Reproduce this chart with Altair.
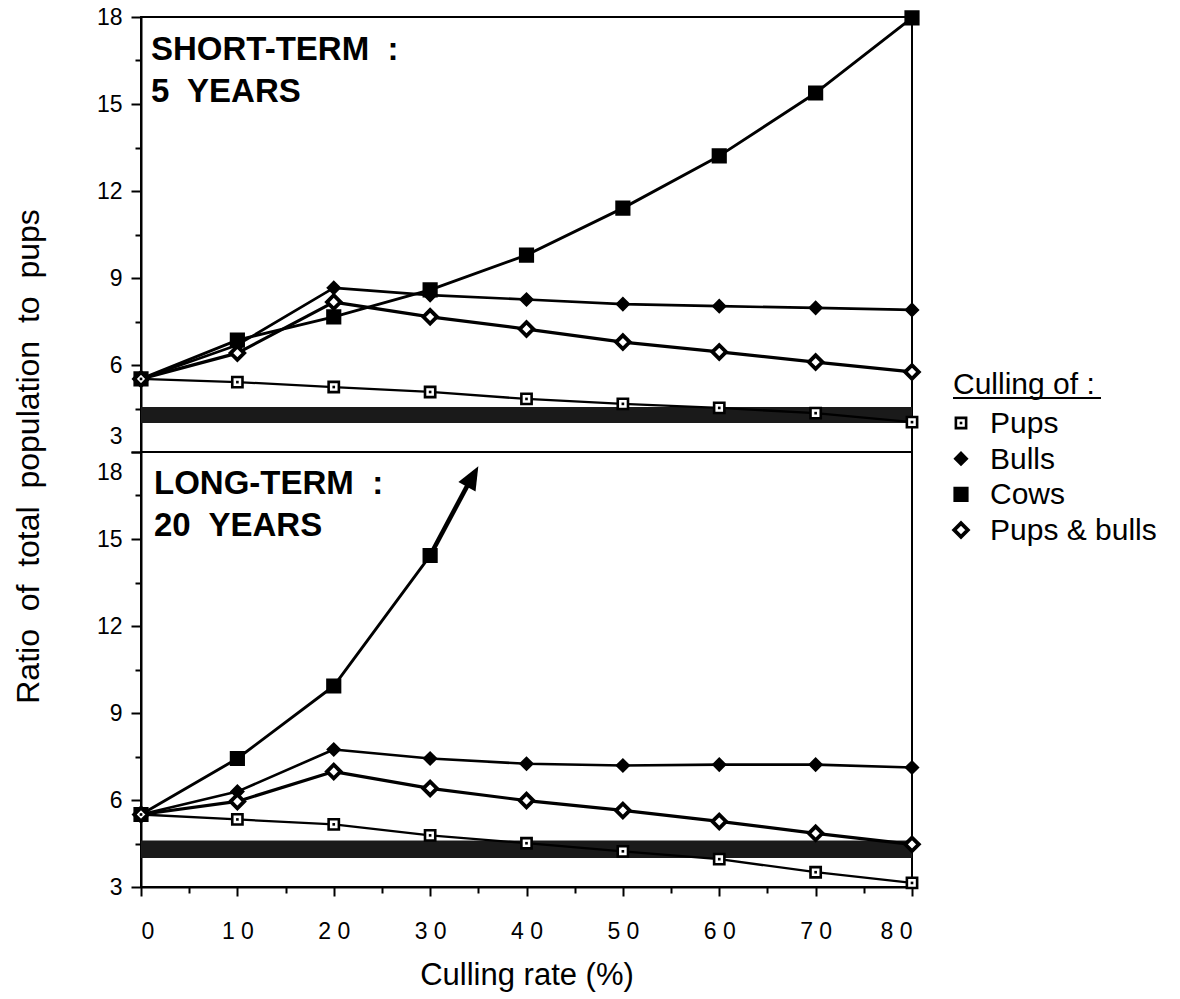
import altair as alt
import pandas as pd

# ---------------- data ----------------
rates = [0, 10, 20, 30, 40, 50, 60, 70, 80]
series_order = ["Pups", "Bulls", "Cows", "Pups & bulls"]

# Short-term : 5 years
short_pups = [5.52, 5.41, 5.24, 5.07, 4.83, 4.66, 4.52, 4.34, 4.03]
short_bulls = [5.52, 6.69, 8.66, 8.41, 8.26, 8.10, 8.03, 7.97, 7.90]
short_cows = [5.52, 6.86, 7.66, 8.59, 9.79, 11.41, 13.21, 15.38, 17.97]
short_pups_bulls = [5.52, 6.41, 8.17, 7.66, 7.24, 6.79, 6.45, 6.10, 5.76]

# Long-term : 20 years
long_pups = [5.50, 5.33, 5.16, 4.78, 4.51, 4.23, 3.96, 3.51, 3.14]
long_bulls = [5.50, 6.29, 7.74, 7.43, 7.25, 7.19, 7.22, 7.22, 7.12]
long_cows_rates = [0, 10, 20, 30]
long_cows = [5.50, 7.43, 9.93, 14.43]
long_pups_bulls = [5.50, 5.95, 6.98, 6.40, 5.98, 5.64, 5.26, 4.85, 4.47]

# arrow continuing the long-term cows curve
arrow_rates = [30, 34.6]
arrow_values = [14.43, 17.3]
arrow_head_rate = [34.15]
arrow_head_value = [17.0]

# shaded band (observed range)
band_rates = [0, 80]
band_short = [4.0, 4.55]
band_long = [4.0, 4.6]

y_tick_values = [3, 4.5, 6, 7.5, 9, 10.5, 12, 13.5, 15, 16.5, 18]
x_tick_values = [0, 5, 10, 15, 20, 25, 30, 35, 40, 45, 50, 55, 60, 65, 70, 75, 80]

NB = "\u00a0"
panel_titles = [f"SHORT-TERM{NB} :\n5{NB} YEARS", f"LONG-TERM{NB} :\n20{NB} YEARS"]
legend_title = "Culling of :"
y_title = f"Ratio{NB} of{NB} total{NB} population{NB} to{NB} pups"
x_title = "Culling rate (%)"


def series_df(r, vals, name):
    return pd.DataFrame({"rate": r, "value": vals, "series": name})


short_df = pd.concat([
    series_df(rates, short_pups, "Pups"),
    series_df(rates, short_bulls, "Bulls"),
    series_df(rates, short_cows, "Cows"),
    series_df(rates, short_pups_bulls, "Pups & bulls"),
])
long_df = pd.concat([
    series_df(rates, long_pups, "Pups"),
    series_df(rates, long_bulls, "Bulls"),
    series_df(long_cows_rates, long_cows, "Cows"),
    series_df(rates, long_pups_bulls, "Pups & bulls"),
])
legend_df = pd.DataFrame({"series": series_order})

FONT = "Liberation Sans"
W, H = 771, 435

xscale = alt.Scale(domain=[0, 80], nice=False)
yscale = alt.Scale(domain=[3, 18], nice=False, zero=False)

shape_scale = alt.Scale(domain=series_order, range=["square", "diamond", "square", "diamond"])
fill_scale = alt.Scale(domain=series_order, range=["white", "black", "black", "white"])
size_scale = alt.Scale(domain=series_order, range=[105, 185, 160, 100])


def y_axis(title, shift_value, shift):
    kw = dict(
        values=y_tick_values,
        labelExpr="datum.value % 3 == 0 ? datum.label : ''",
        tickSize={"condition": {"test": "datum.value % 3 == 0", "value": 10}, "value": 6},
        labelOffset={"condition": {"test": f"datum.value == {shift_value}", "value": shift}, "value": 0},
        tickWidth=2, tickColor="black", domainColor="black", domainWidth=2,
        labelFontSize=23, labelColor="black", labelPadding=9, labelFont=FONT,
        grid=False,
    )
    if title:
        kw.update(title=title, titleFontSize=32, titleFont=FONT, titleFontWeight="normal",
                  titleColor="black", titleY=H + 4, titleX=-96, titleAngle=-90)
    else:
        kw.update(title=None)
    return alt.Axis(**kw)


x_axis_bottom = alt.Axis(
    values=x_tick_values,
    labelExpr="datum.value % 10 == 0 ? (datum.value < 10 ? datum.label : substring(datum.label,0,1) + ' ' + substring(datum.label,1)) : ''",
    tickSize={"condition": {"test": "datum.value % 10 == 0", "value": 9}, "value": 6},
    tickWidth=2, tickColor="black", domainColor="black", domainWidth=2,
    labelFontSize=23, labelColor="black", labelPadding=24, labelFont=FONT,
    title=x_title, titleFontSize=31, titleFont=FONT, titleFontWeight="normal",
    titleColor="black", titlePadding=17, grid=False,
)


def marker_layers(data, X, Y):
    enc = dict(
        shape=alt.Shape("series:N", scale=shape_scale, legend=None),
        fill=alt.Fill("series:N", scale=fill_scale, legend=None),
        size=alt.Size("series:N", scale=size_scale, legend=None),
    )
    a = alt.Chart(data).transform_filter(alt.datum.series != "Pups & bulls").mark_point(
        stroke="black", strokeWidth=2.6, opacity=1).encode(x=X, y=Y, **enc)
    b = alt.Chart(data).transform_filter(alt.datum.series == "Pups & bulls").mark_point(
        stroke="black", strokeWidth=3.8, opacity=1).encode(x=X, y=Y, **enc)
    c = alt.Chart(data).transform_filter(alt.datum.series == "Pups").mark_point(
        shape="square", filled=True, color="black", size=7, opacity=1).encode(x=X, y=Y)
    return [a, b, c]


def panel(df, band, title_text, x_axis, yax, with_legend, arrow=False):
    X = alt.X("rate:Q", scale=xscale, axis=x_axis)
    Y = alt.Y("value:Q", scale=yscale, axis=yax)

    band_df = pd.DataFrame({"rate": [band_rates[0]], "rate2": [band_rates[1]],
                            "value": [band[0]], "value2": [band[1]]})
    band_layer = alt.Chart(band_df).mark_rect(color="#1a1a1a").encode(
        x=X, x2="rate2:Q", y=Y, y2="value2:Q")

    lines = alt.Chart(df).mark_line(color="black", strokeJoin="round").encode(
        x=X, y=Y, detail="series:N",
        strokeWidth=alt.StrokeWidth("series:N", scale=alt.Scale(domain=series_order, range=[2.3, 3.2, 4.6, 2.9]), legend=None),
    )

    txt = alt.Chart(pd.DataFrame({"t": [title_text]})).mark_text(
        align="left", baseline="alphabetic", font=FONT, fontSize=33, fontWeight="bold",
        lineBreak="\n", lineHeight=42, color="black",
    ).encode(text="t:N", x=alt.value(10 if not arrow else 13), y=alt.value(43 if not arrow else 42))

    layers = [band_layer, lines]
    if arrow:
        adf = pd.DataFrame({"rate": arrow_rates, "value": arrow_values})
        hdf = pd.DataFrame({"rate": arrow_head_rate, "value": arrow_head_value})
        layers.append(alt.Chart(adf).mark_line(color="black", strokeWidth=4.6).encode(x=X, y=Y))
        layers.append(alt.Chart(hdf).mark_point(shape="M0,-1.3L-0.75,0.5L0.75,0.5Z", angle=29, filled=True,
                                                color="black", size=680, opacity=1).encode(x=X, y=Y))
    layers += marker_layers(df, X, Y)
    layers.append(txt)
    data_layer = alt.layer(*layers)

    if not with_legend:
        return data_layer.properties(width=W, height=H)

    # ---- legend drawn beside the top panel ----
    LY = alt.Y("series:N", scale=alt.Scale(type="point", domain=series_order, range=[406, 513], padding=0), axis=None)
    leg_pts = marker_layers(legend_df, alt.value(820), LY)
    leg_lab = alt.Chart(legend_df).mark_text(
        align="left", baseline="middle", font=FONT, fontSize=30, color="black", dy=1
    ).encode(text="series:N", x=alt.value(849), y=LY)
    leg_title = alt.Chart(pd.DataFrame({"t": [legend_title]})).mark_text(
        align="left", baseline="alphabetic", font=FONT, fontSize=30, color="black"
    ).encode(text="t:N", x=alt.value(812), y=alt.value(377))
    underline = alt.Chart(pd.DataFrame({"a": [0]})).mark_rule(color="black", strokeWidth=2).encode(
        x=alt.value(812), x2=alt.value(960), y=alt.value(381))
    legend_layer = alt.layer(*leg_pts, leg_lab, leg_title, underline)

    return alt.layer(data_layer, legend_layer).resolve_scale(y="independent").properties(width=W, height=H)


top = panel(short_df, band_short, panel_titles[0], None,
            y_axis(y_title, 3, -16), True)
bottom = panel(long_df, band_long, panel_titles[1], x_axis_bottom,
               y_axis(None, 18, 20), False, arrow=True)

chart = alt.vconcat(top, bottom, spacing=0, bounds="flush").properties(
    padding={"left": 11, "top": 5, "right": 5, "bottom": 5}, background="white"
).configure_view(stroke="black", strokeWidth=2)

chart.save("out.html", embed_options={"renderer": "svg", "actions": False})
